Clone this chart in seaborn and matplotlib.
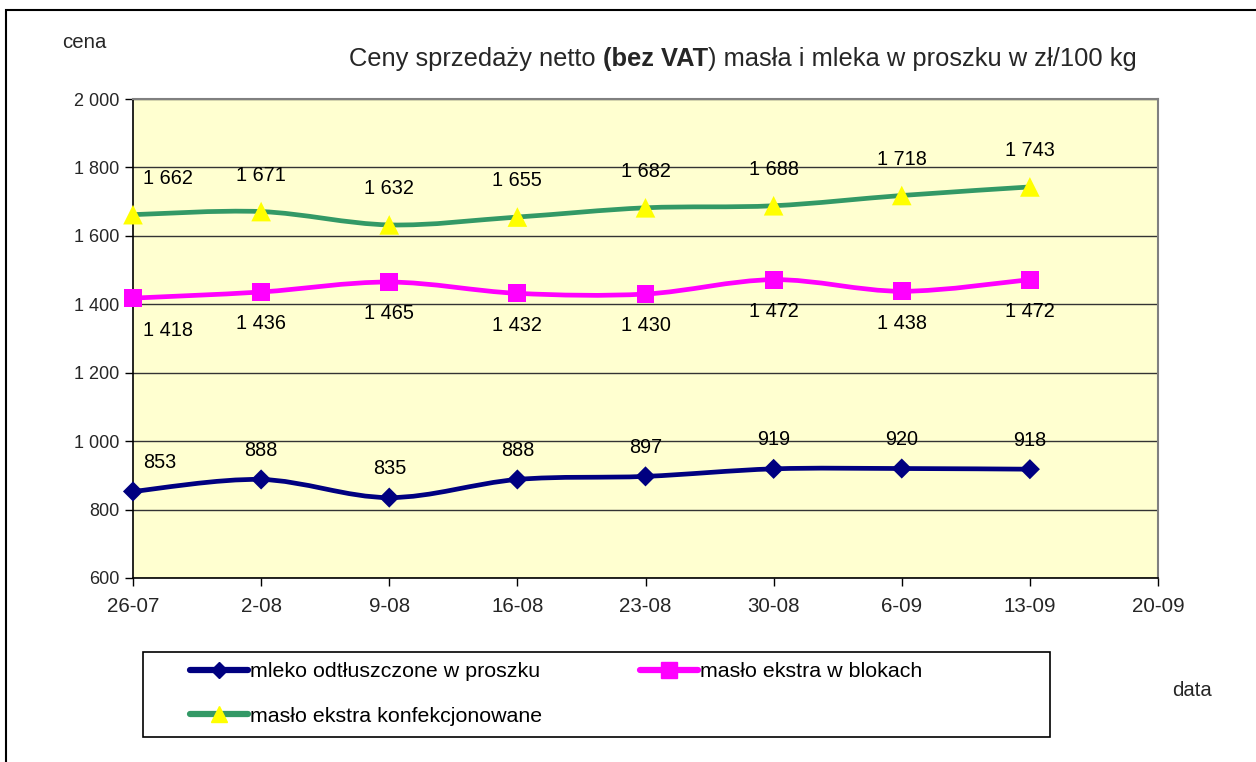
import numpy as np
import pandas as pd
import matplotlib
matplotlib.use("Agg")
import matplotlib.pyplot as plt
import seaborn as sns
from matplotlib.path import Path
from matplotlib.patches import PathPatch, Rectangle
from matplotlib.lines import Line2D

# tick labels of the date axis (weekly)
tick_labels = ["26-07", "2-08", "9-08", "16-08", "23-08", "30-08", "6-09", "13-09", "20-09"]
weeks = tick_labels[:8]

mleko = [853, 888, 835, 888, 897, 919, 920, 918]
maslo_bloki = [1418, 1436, 1465, 1432, 1430, 1472, 1438, 1472]
maslo_konf = [1662, 1671, 1632, 1655, 1682, 1688, 1718, 1743]

series_names = ["mleko odtłuszczone w proszku", "masło ekstra w blokach",
                "masło ekstra konfekcjonowane"]

rows = []
for name, vals in zip(series_names, [mleko, maslo_bloki, maslo_konf]):
    for i, v in enumerate(vals):
        rows.append({"seria": name, "tydzien": weeks[i], "x": i, "cena": v})
df = pd.DataFrame(rows)

sns.set_theme(style="white")
plt.rcParams["font.family"] = ["Liberation Sans", "DejaVu Sans"]

colors = {series_names[0]: "#000080", series_names[1]: "#FF00FF", series_names[2]: "#339966"}
mfc = {series_names[0]: "#000080", series_names[1]: "#FF00FF", series_names[2]: "#FFFF00"}
markers = {series_names[0]: "D", series_names[1]: "s", series_names[2]: "^"}
msize = {series_names[0]: 105, series_names[1]: 165, series_names[2]: 200}


def smooth_path(xs, ys):
    # Excel-like smoothed line: Catmull-Rom converted to cubic Bezier segments
    pts = np.column_stack([xs, ys]).astype(float)
    n = len(pts)
    verts = [pts[0]]
    codes = [Path.MOVETO]
    for i in range(n - 1):
        p0 = pts[i - 1] if i > 0 else pts[i]
        p1 = pts[i]
        p2 = pts[i + 1]
        p3 = pts[i + 2] if i + 2 < n else pts[i + 1]
        c1 = p1 + (p2 - p0) / 6.0
        c2 = p2 - (p3 - p1) / 6.0
        verts += [c1, c2, p2]
        codes += [Path.CURVE4] * 3
    return Path(verts, codes)


fig = plt.figure(figsize=(12.56, 7.62), dpi=100)
ax = fig.add_axes([133 / 1256, 1 - 578 / 762, (1158 - 133) / 1256, (578 - 99) / 762])
ax.set_facecolor("#FFFFD0")

for name in series_names:
    sub = df[df["seria"] == name]
    ax.add_patch(PathPatch(smooth_path(sub["x"], sub["cena"]), fill=False,
                           edgecolor=colors[name], lw=3.4, zorder=3,
                           capstyle="round"))

for name in series_names:
    sub = df[df["seria"] == name]
    sns.scatterplot(data=sub, x="x", y="cena", marker=markers[name], s=msize[name],
                    color=mfc[name], edgecolor="none", linewidth=0, ax=ax,
                    zorder=4, legend=False, clip_on=False)

# data labels
offsets = {series_names[0]: 21, series_names[1]: -23, series_names[2]: 26}
for name in series_names:
    sub = df[df["seria"] == name]
    for _, r in sub.iterrows():
        lab = f"{r['cena']:,}".replace(",", " ")
        if r["x"] == 0:
            ax.annotate(lab, (r["x"], r["cena"]), xytext=(7, offsets[name]),
                        textcoords="offset points", ha="left", va="center",
                        fontsize=14.3, color="black", zorder=5)
        else:
            ax.annotate(lab, (r["x"], r["cena"]), xytext=(0, offsets[name]),
                        textcoords="offset points", ha="center", va="center",
                        fontsize=14.3, color="black", zorder=5)

ax.set_xlim(0, len(tick_labels) - 1)
ax.set_ylim(600, 2000)
ax.set_xticks(range(len(tick_labels)))
ax.set_xticklabels(tick_labels, fontsize=14.8)
yt = np.arange(600, 2001, 200)
ax.set_yticks(yt)
ax.set_yticklabels([f"{v:,}".replace(",", " ") for v in yt], fontsize=13)
ax.tick_params(axis="both", direction="out", length=6, width=1, color="black",
               left=True, bottom=True, pad=4)
ax.tick_params(axis="x", pad=8)
ax.set_xlabel("")
ax.set_ylabel("")
ax.grid(axis="y", color="#333333", lw=1)
ax.grid(axis="x", visible=False)
ax.set_axisbelow(True)
for s in ["left", "bottom"]:
    ax.spines[s].set_color("black")
    ax.spines[s].set_linewidth(1.2)
for s in ["top", "right"]:
    ax.spines[s].set_color("#808080")
    ax.spines[s].set_linewidth(1.5)

# title with bold part
ty = 1 - 66 / 762
t1 = fig.text(349 / 1256, ty, "Ceny sprzedaży netto ", fontsize=18.35, va="baseline")
t2 = fig.text(0, 0, "(bez VAT", fontsize=18.35, fontweight="bold", va="baseline")
t3 = fig.text(0, 0, ") masła i mleka w proszku w zł/100 kg", fontsize=18.35, va="baseline")
fig.canvas.draw()
r = fig.canvas.get_renderer()
bb1 = t1.get_window_extent(r)
t2.set_position((bb1.x1 / fig.bbox.width, ty))
fig.canvas.draw()
bb2 = t2.get_window_extent(r)
t3.set_position((bb2.x1 / fig.bbox.width, ty))

fig.text(62 / 1256, 1 - 42 / 762, "cena", fontsize=14.7, va="center", ha="left")
fig.text(1172 / 1256, 1 - 690 / 762, "data", fontsize=14.7, va="center", ha="left")

# legend (row-wise order), box drawn separately
handles = {}
for name in series_names:
    handles[name] = Line2D([], [], color=colors[name], lw=4.5, marker=markers[name],
                           markerfacecolor=mfc[name], markeredgecolor=mfc[name],
                           markersize={"D": 8, "s": 11, "^": 11}[markers[name]])
order = [series_names[0], series_names[2], series_names[1]]
leg = fig.legend([handles[n] for n in order], order, ncol=2, fontsize=15.4,
                 loc="upper left", bbox_to_anchor=(190 / 1256, 1 - 662 / 762),
                 frameon=False, handlelength=2.7, handletextpad=0.12,
                 borderpad=0, labelspacing=1.2, columnspacing=4.55,
                 borderaxespad=0)
for txt in leg.get_texts():
    txt.set_color("black")

fig.patches.append(Rectangle((143 / 1256, 1 - 737 / 762), (1050 - 143) / 1256,
                             (737 - 652) / 762, transform=fig.transFigure,
                             fill=False, edgecolor="black", lw=1.2))

# outer chart border
fig.patches.append(Rectangle((6 / 1256, -0.1), 1.2, 1 - 10 / 762 + 0.1,
                             transform=fig.transFigure, fill=False,
                             edgecolor="black", lw=1.5))

fig.savefig("out.png", dpi=100)
